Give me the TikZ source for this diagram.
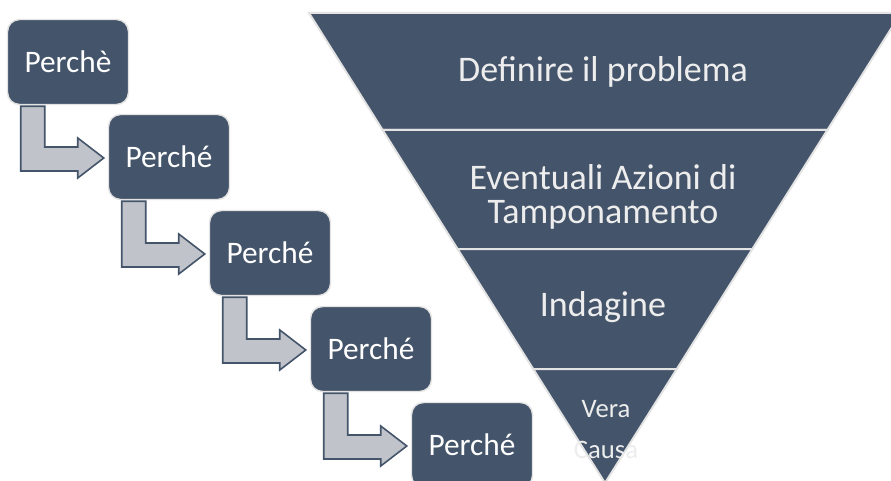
\documentclass[tikz,border=0pt]{standalone}
\usepackage{fontspec}
\setmainfont{Carlito}
\usetikzlibrary{calc}
\definecolor{sSlate}{HTML}{44546A}
\definecolor{sEdge}{HTML}{E3E3E3}
\definecolor{sGrey}{HTML}{C0C4CA}
\definecolor{sText}{HTML}{EDEDED}

\begin{document}
\begin{tikzpicture}[x=0.75pt,y=-0.75pt]
		\tikzstyle{why} = [draw=sEdge, line width=1.1pt, fill=sSlate, rounded corners=9pt, minimum width=90.75pt, minimum height=63.75pt, text=white, font=\fontsize{23.5}{28}\selectfont]
		\tikzstyle{bent} = [draw=sSlate, fill=sGrey, line width=1.2pt, line join=miter]
		\tikzstyle{band} = [draw=sEdge, fill=sSlate, line width=1.5pt]
		\tikzstyle{label} = [text=sText, anchor=base, align=center, font=\fontsize{27}{32}\selectfont]
		\useasboundingbox (0,0) rectangle (891,481);

		% funnel
		\filldraw[band] (309,13) -- (901,13) -- (827.4,130) -- (382.6,130) -- cycle;
		\filldraw[band] (382.6,130) -- (827.4,130) -- (752.4,249) -- (457.6,249) -- cycle;
		\filldraw[band] (457.6,249) -- (752.4,249) -- (676.8,369) -- (533.2,369) -- cycle;
		\filldraw[band] (533.2,369) -- (676.8,369) -- (605,483) -- cycle;

		\node[label] (tOne) at (603,82) {Definire il problema};
		\node[label] (tTwo) at (603,189) {Eventuali Azioni di};
		\node[label] (tThree) at (603,223) {Tamponamento};
		\node[label] (tFour) at (603,316) {Indagine};
		\node[label, font=\fontsize{20}{24}\selectfont] (tFive) at (606,417) {Vera};
		\node[label, font=\fontsize{20}{24}\selectfont] (tSix) at (606,458) {Causa};

		% why boxes
		\node[why] (wOne) at (68,62) {Perchè};
		\node[why] (wTwo) at (169,157) {Perché};
		\node[why] (wThree) at (270,253) {Perché};
		\node[why] (wFour) at (371,349) {Perché};
		\node[why] (wFive) at (472,445) {Perché};

		\draw[bent] ($(wOne.south west)+(14,1)$) -- ($(wOne.south west)+(38,1)$) |- ($(wTwo.west)+(-30,-10)$) -- ($(wTwo.west)+(-30,-19)$) -- ($(wTwo.west)+(-4,1)$) -- ($(wTwo.west)+(-30,21)$) -- ($(wTwo.west)+(-30,14)$) -| ($(wOne.south west)+(14,1)$) -- cycle;
		\draw[bent] ($(wTwo.south west)+(14,1)$) -- ($(wTwo.south west)+(38,1)$) |- ($(wThree.west)+(-30,-10)$) -- ($(wThree.west)+(-30,-19)$) -- ($(wThree.west)+(-4,1)$) -- ($(wThree.west)+(-30,21)$) -- ($(wThree.west)+(-30,14)$) -| ($(wTwo.south west)+(14,1)$) -- cycle;
		\draw[bent] ($(wThree.south west)+(14,1)$) -- ($(wThree.south west)+(38,1)$) |- ($(wFour.west)+(-30,-10)$) -- ($(wFour.west)+(-30,-19)$) -- ($(wFour.west)+(-4,1)$) -- ($(wFour.west)+(-30,21)$) -- ($(wFour.west)+(-30,14)$) -| ($(wThree.south west)+(14,1)$) -- cycle;
		\draw[bent] ($(wFour.south west)+(14,1)$) -- ($(wFour.south west)+(38,1)$) |- ($(wFive.west)+(-30,-10)$) -- ($(wFive.west)+(-30,-19)$) -- ($(wFive.west)+(-4,1)$) -- ($(wFive.west)+(-30,21)$) -- ($(wFive.west)+(-30,14)$) -| ($(wFour.south west)+(14,1)$) -- cycle;
\end{tikzpicture}
\end{document}
